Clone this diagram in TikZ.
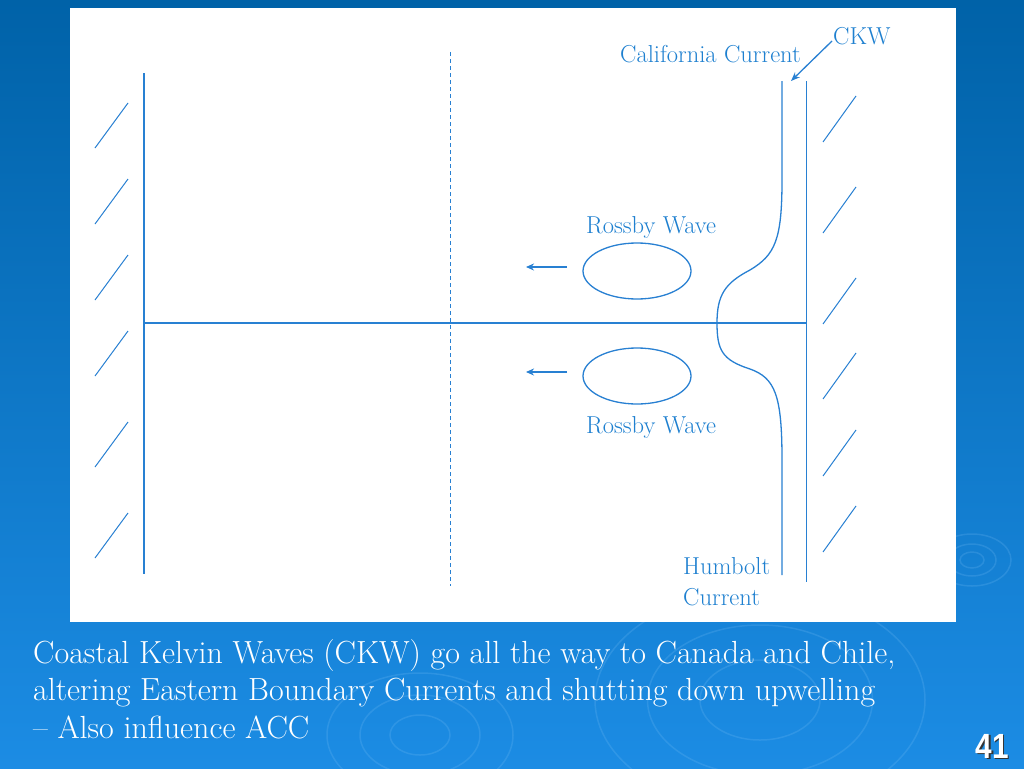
\documentclass[tikz,border=0pt]{standalone}
\usepackage{fontspec}
\newfontfamily\arialfont{Liberation Sans}
\usetikzlibrary{arrows.meta}
\definecolor{lineblue}{RGB}{40,128,210}
\definecolor{textblue}{RGB}{30,128,208}
\definecolor{bgtop}{RGB}{0,98,168}
\definecolor{bgbot}{RGB}{28,140,228}
\definecolor{ripple}{RGB}{120,190,245}
\begin{document}
\begin{tikzpicture}[x=1pt,y=-1pt,
  ln/.style={draw=lineblue, line width=1.3pt},
  hatch/.style={draw=lineblue, line width=1pt},
  lbl/.style={text=textblue, font=\fontsize{24.5}{28}\selectfont, inner sep=0pt, anchor=base west},
  caption/.style={text=white, font=\fontsize{32}{36}\selectfont, inner sep=0pt, anchor=base west},
  rip/.style={draw=ripple, line width=1.5pt, opacity=0.22},
  pgnum/.style={inner sep=0pt, anchor=base east, font=\arialfont\bfseries\fontsize{35}{40}\selectfont},
  wavearrow/.style={ln, line width=1.5pt, -{Stealth[length=8pt,width=7pt]}}]
\useasboundingbox (0,0) rectangle (1024,768);
% background
\shade[top color=bgtop, bottom color=bgbot] (0,0) rectangle (1024,768);
% ripples
\foreach \r in {8,16,26} \draw[rip] (972,560) ellipse [x radius=\r*1.5, y radius=\r];
\foreach \r in {20,40,62} \draw[rip] (420,735) ellipse [x radius=\r*1.5, y radius=\r];
\foreach \r in {40,75,110} \draw[rip] (760,700) ellipse [x radius=\r*1.5, y radius=\r];
% white panel
\fill[white] (70,8) rectangle (956,622);
% walls
\draw[ln] (144,73) -- (144,574);
\draw[ln] (806.5,81) -- (806.5,582);
\draw[ln] (144,323) -- (806.5,323);
\draw[ln, line width=1.1pt, dash pattern=on 4pt off 3pt] (450.5,52) -- (450.5,586);
% hatches
\foreach \y in {148,224,300,376,467,558} \draw[hatch] (95,\y) -- (128,\y-45);
\foreach \y in {142,233,324,399,476,552} \draw[hatch] (823,\y) -- (856,\y-46);
% boundary current curve
\draw[ln] (782,81) -- (782,180) .. controls (782,240) and (775,255) .. (750,270)
  .. controls (725,283) and (717,295) .. (717,323)
  .. controls (717,350) and (722,360) .. (750,369)
  .. controls (775,378) and (782,395) .. (782,460) -- (782,575);
% Rossby eddies
\draw[ln] (637,271) ellipse [x radius=54, y radius=28];
\draw[ln] (637,376) ellipse [x radius=54, y radius=28];
\coordinate (ua0) at (567,267); \coordinate (ua1) at (526,267);
\coordinate (la0) at (567,372); \coordinate (la1) at (526,372);
\draw[wavearrow] (ua0) -- (ua1);
\draw[wavearrow] (la0) -- (la1);
% labels
\node[lbl] (cal) at (620,63) {California Current};
\node[lbl] (ckw) at (833,45) {CKW};
\coordinate (ckwtip) at (791,81);
\draw[ln, -{Stealth[length=9pt,width=7pt]}] (ckw.base west) ++(-1,-4) -- (ckwtip);
\node[lbl] (rw1) at (586,233) {Rossby Wave};
\node[lbl] (rw2) at (586,433) {Rossby Wave};
\node[lbl] (hum1) at (683,574) {Humbolt};
\node[lbl] (hum2) at (683,605) {Current};
% caption
\node[caption] (c1) at (33,663) {Coastal Kelvin Waves (CKW) go all the way to Canada and Chile,};
\node[caption] (c2) at (33,700) {altering Eastern Boundary Currents and shutting down upwelling};
\node[caption] (c3) at (33,738) {-- Also influence ACC};
% page number
\node[pgnum, text=black!80] at (1010.5,759.5) {\scalebox{0.85}[1]{41}};
\node[pgnum, text=white] (pg) at (1009,758) {\scalebox{0.85}[1]{41}};
\end{tikzpicture}
\end{document}
